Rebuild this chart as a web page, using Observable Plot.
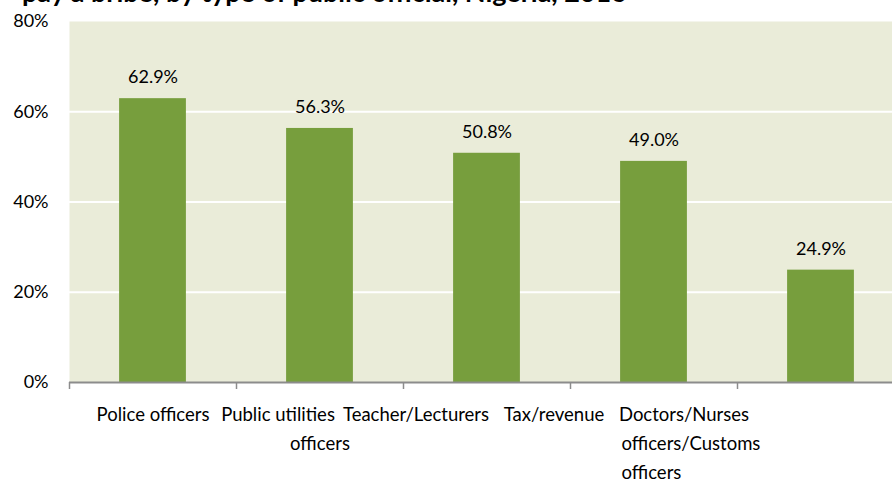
<!DOCTYPE html>
<html><head><meta charset="utf-8">
<script src="https://cdn.jsdelivr.net/npm/d3@7"></script>
<script src="https://cdn.jsdelivr.net/npm/@observablehq/plot@0.6"></script>
<style>
html,body{margin:0;padding:0;background:#fff;overflow:hidden;width:892px;height:481px;}
#wrap{position:relative;width:892px;height:481px;overflow:hidden;}
#title{position:absolute;left:22px;top:-25px;font:bold 27px Lato, sans-serif;color:#000;white-space:nowrap;}
#chart{position:absolute;left:0;top:0;}
</style></head><body>
<div id="wrap"><div id="title">pay a bribe, by type of public official, Nigeria, 2016</div><div id="chart"></div></div>
<script>
const categories = ["Police officers", "Public utilities officers", "Teacher/Lecturers", "Tax/revenue officers/Customs officers", "Doctors/Nurses"];
const values = [62.9, 56.3, 50.8, 49.0, 24.9];
const labelLines = [["Police officers"], ["Public utilities", "officers"], ["Teacher/Lecturers"], ["Tax/revenue", "officers/Customs", "officers"], ["Doctors/Nurses"]];
const yTicks = [0, 20, 40, 60, 80];
const gridValues = [20, 40, 60];

const bars = categories.map((c, i) => ({category: c, index: i, value: values[i]}));
// horizontal shifts and anchors of each label line (layout only)
const lineDx = [[0], [-42, 0], [-71], [-100, -32.5, -32.5], [-137]];
const lineAnchor = [["middle"], ["middle", "middle"], ["middle"], ["middle", "start", "start"], ["middle"]];
const labelMarks = labelLines.flatMap((ls, i) => ls.map((t, j) =>
  Plot.text([{index: i, text: t}], {
    x: d => d.index + 0.5, y: () => 0, text: "text",
    dx: lineDx[i][j], dy: 33 + 29 * j, lineAnchor: "middle", textAnchor: lineAnchor[i][j],
    fontSize: 18.5, fill: "#000"
  })));

const chart = Plot.plot({
  width: 892, height: 481,
  marginLeft: 69, marginRight: -12, marginTop: 21, marginBottom: 99,
  style: {fontFamily: "Lato, sans-serif", fontSize: "18px", color: "#000", background: "transparent"},
  x: {domain: [0, 5], axis: null},
  y: {domain: [0, 80], axis: null},
  marks: [
    Plot.frame({fill: "#EAECD9", stroke: null}),
    Plot.ruleY(gridValues, {stroke: "#fff", strokeWidth: 2}),
    Plot.rectY(bars, {x1: d => d.index + 0.3, x2: d => d.index + 0.7, y: "value", fill: "#779E3D"}),
    Plot.text(bars, {x: d => d.index + 0.5, y: "value", text: d => d.value.toFixed(1) + "%", dy: -21, lineAnchor: "middle", fontSize: 18, fill: "#000"}),
    Plot.ruleY([0], {stroke: "#8C8C8C", strokeWidth: 2}),
    Plot.axisX({ticks: d3.range(6), tickFormat: () => "", tickSize: 7, stroke: "#8C8C8C", strokeWidth: 1.5, label: null}),
    Plot.axisY({ticks: yTicks, tickFormat: d => d + "%", tickSize: 0, tickPadding: 21, fontSize: 18, fill: "#000", label: null}),
    ...labelMarks
  ]
});
document.getElementById("chart").appendChild(chart);
</script>
</body></html>
